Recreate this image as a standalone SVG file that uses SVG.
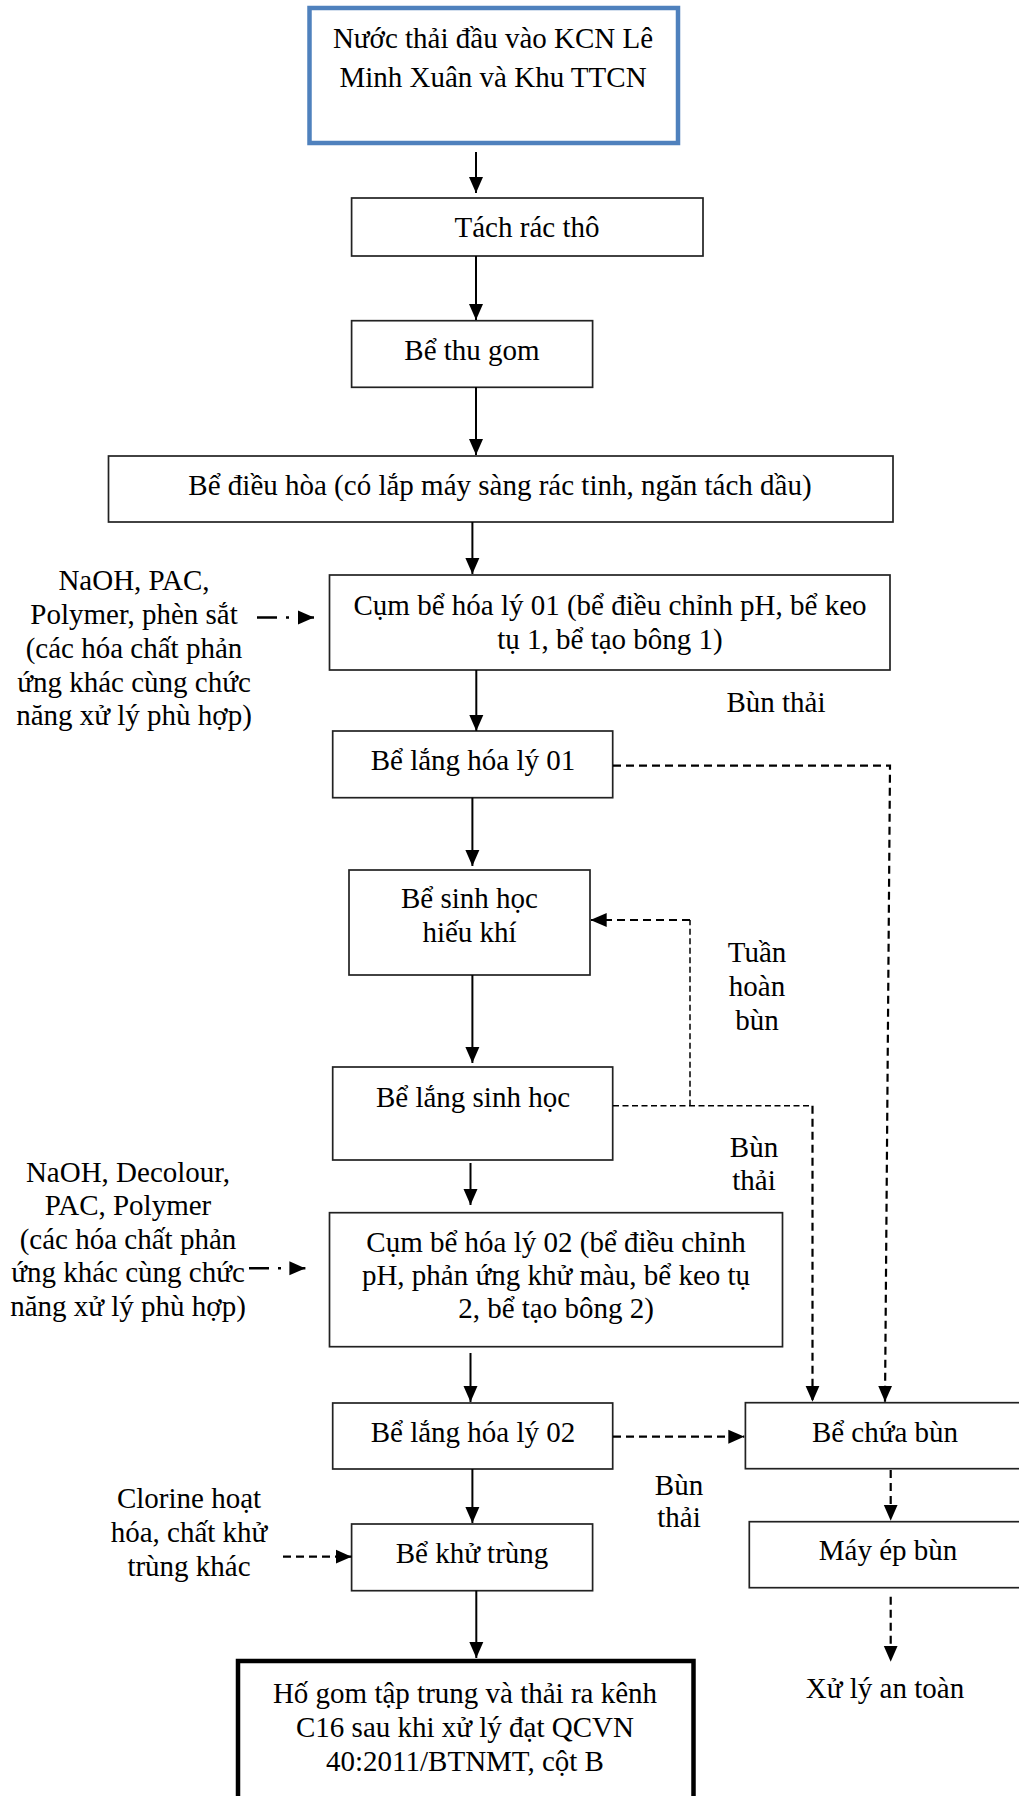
<svg xmlns="http://www.w3.org/2000/svg" width="1019" height="1796" viewBox="0 0 1019 1796">
  <defs>
    <marker id="head" markerUnits="userSpaceOnUse" markerWidth="16" markerHeight="16" viewBox="0 0 16 16" refX="16" refY="8" orient="auto">
      <path d="M0,1 L16,8 L0,15 Z" fill="#000"/>
    </marker>
    <style>
      .box { fill: #fff; stroke: #222; stroke-width: 1.7; }
      .lbl { font-family: "Liberation Serif", "Times New Roman", serif; font-size: 29px; fill: #000; text-anchor: middle; }
      .flow { fill: none; stroke: #000; stroke-width: 2; }
      .dash { fill: none; stroke: #000; stroke-width: 2.2; stroke-dasharray: 8 5; }
      .thin { fill: none; stroke: #000; stroke-width: 1.5; stroke-dasharray: 6 3.5; }
      .dashdot { fill: none; stroke: #000; stroke-width: 2.4; stroke-dasharray: 20 9 3 20; }
    </style>
  </defs>
  <rect width="1019" height="1796" fill="#fff"/>

  <!-- process chain -->
  <g id="n-inlet">
    <rect x="309.5" y="8" width="368.5" height="135" fill="#fff" stroke="#4F81BD" stroke-width="4.5"/>
    <text class="lbl" x="493" y="48">Nước thải đầu vào KCN Lê</text>
    <text class="lbl" x="493" y="87">Minh Xuân và Khu TTCN</text>
  </g>
  <g id="n-screen">
    <rect class="box" x="351.6" y="198" width="351.4" height="58"/>
    <text class="lbl" x="527" y="237">Tách rác thô</text>
  </g>
  <g id="n-collect">
    <rect class="box" x="351.6" y="320.7" width="241" height="66.6"/>
    <text class="lbl" x="472" y="360">Bể thu gom</text>
  </g>
  <g id="n-equal">
    <rect class="box" x="108.5" y="456" width="784.5" height="66"/>
    <text class="lbl" x="500" y="495">Bể điều hòa (có lắp máy sàng rác tinh, ngăn tách dầu)</text>
  </g>
  <g id="n-chem1">
    <rect class="box" x="329.5" y="575" width="560.5" height="95"/>
    <text class="lbl" x="610" y="615">Cụm bể hóa lý 01 (bể điều chỉnh pH, bể keo</text>
    <text class="lbl" x="610" y="649">tụ 1, bể tạo bông 1)</text>
  </g>
  <g id="n-settle1">
    <rect class="box" x="332.7" y="731" width="280" height="66.7"/>
    <text class="lbl" x="473" y="770">Bể lắng hóa lý 01</text>
  </g>
  <g id="n-bio">
    <rect class="box" x="349" y="870" width="241" height="105"/>
    <text class="lbl" x="469.5" y="908">Bể sinh học</text>
    <text class="lbl" x="469.5" y="942">hiếu khí</text>
  </g>
  <g id="n-biosettle">
    <rect class="box" x="332.7" y="1067" width="280" height="93"/>
    <text class="lbl" x="473" y="1107">Bể lắng sinh học</text>
  </g>
  <g id="n-chem2">
    <rect class="box" x="329.5" y="1212.7" width="453" height="134"/>
    <text class="lbl" x="556" y="1252">Cụm bể hóa lý 02 (bể điều chỉnh</text>
    <text class="lbl" x="556" y="1285">pH, phản ứng khử màu, bể keo tụ</text>
    <text class="lbl" x="556" y="1318">2, bể tạo bông 2)</text>
  </g>
  <g id="n-settle2">
    <rect class="box" x="332.7" y="1403" width="280" height="66"/>
    <text class="lbl" x="473" y="1442">Bể lắng hóa lý 02</text>
  </g>
  <g id="n-disinfect">
    <rect class="box" x="351.6" y="1524" width="241" height="66.7"/>
    <text class="lbl" x="472" y="1563">Bể khử trùng</text>
  </g>
  <g id="n-outlet">
    <rect x="238" y="1661" width="455.5" height="200" fill="#fff" stroke="#000" stroke-width="4.5"/>
    <text class="lbl" x="465" y="1703">Hố gom tập trung và thải ra kênh</text>
    <text class="lbl" x="465" y="1737">C16 sau khi xử lý đạt QCVN</text>
    <text class="lbl" x="465" y="1771">40:2011/BTNMT, cột B</text>
  </g>

  <!-- sludge line -->
  <g id="n-sludgetank">
    <rect class="box" x="745.4" y="1402.7" width="290" height="66"/>
    <text class="lbl" x="885" y="1442">Bể chứa bùn</text>
  </g>
  <g id="n-press">
    <rect class="box" x="749.3" y="1521.7" width="290" height="66"/>
    <text class="lbl" x="888" y="1560">Máy ép bùn</text>
  </g>
  <g id="n-safe">
    <text class="lbl" x="885" y="1698">Xử lý an toàn</text>
  </g>

  <!-- dosing inputs -->
  <g id="n-dose1">
    <text class="lbl" x="134" y="590">NaOH, PAC,</text>
    <text class="lbl" x="134" y="624">Polymer, phèn sắt</text>
    <text class="lbl" x="134" y="658">(các hóa chất phản</text>
    <text class="lbl" x="134" y="692">ứng khác cùng chức</text>
    <text class="lbl" x="134" y="725">năng xử lý phù hợp)</text>
  </g>
  <g id="n-dose2">
    <text class="lbl" x="128" y="1182">NaOH, Decolour,</text>
    <text class="lbl" x="128" y="1215">PAC, Polymer</text>
    <text class="lbl" x="128" y="1249">(các hóa chất phản</text>
    <text class="lbl" x="128" y="1282">ứng khác cùng chức</text>
    <text class="lbl" x="128" y="1316">năng xử lý phù hợp)</text>
  </g>
  <g id="n-dose3">
    <text class="lbl" x="189" y="1508">Clorine hoạt</text>
    <text class="lbl" x="189" y="1542">hóa, chất khử</text>
    <text class="lbl" x="189" y="1576">trùng khác</text>
  </g>

  <!-- connector labels -->
  <g id="labels">
    <text class="lbl" x="776" y="712">Bùn thải</text>
    <text class="lbl" x="757" y="962">Tuần</text>
    <text class="lbl" x="757" y="996">hoàn</text>
    <text class="lbl" x="757" y="1030">bùn</text>
    <text class="lbl" x="754" y="1157">Bùn</text>
    <text class="lbl" x="754" y="1190">thải</text>
    <text class="lbl" x="679" y="1495">Bùn</text>
    <text class="lbl" x="679" y="1527">thải</text>
  </g>

  <g id="connectors">
    <!-- main flow -->
    <line class="flow" x1="476" y1="152" x2="476" y2="193" marker-end="url(#head)"/>
    <line class="flow" x1="476" y1="256" x2="476" y2="320" marker-end="url(#head)"/>
    <line class="flow" x1="476" y1="387" x2="476" y2="455" marker-end="url(#head)"/>
    <line class="flow" x1="472.4" y1="522" x2="472.4" y2="574" marker-end="url(#head)"/>
    <line class="flow" x1="476.3" y1="670" x2="476.3" y2="731" marker-end="url(#head)"/>
    <line class="flow" x1="472.4" y1="797.7" x2="472.4" y2="866" marker-end="url(#head)"/>
    <line class="flow" x1="472.4" y1="975" x2="472.4" y2="1063" marker-end="url(#head)"/>
    <line class="flow" x1="470.5" y1="1163" x2="470.5" y2="1205" marker-end="url(#head)"/>
    <line class="flow" x1="470.5" y1="1353" x2="470.5" y2="1402" marker-end="url(#head)"/>
    <line class="flow" x1="472.4" y1="1469" x2="472.4" y2="1523" marker-end="url(#head)"/>
    <line class="flow" x1="476.3" y1="1590.7" x2="476.3" y2="1658" marker-end="url(#head)"/>

    <!-- chemical dosing -->
    <line class="dashdot" x1="257" y1="617.5" x2="314" y2="617.5" marker-end="url(#head)"/>
    <line class="dashdot" x1="249" y1="1268.3" x2="305.4" y2="1268.3" marker-end="url(#head)"/>
    <line class="dash" x1="283" y1="1556.7" x2="351.6" y2="1556.7" marker-end="url(#head)"/>

    <!-- sludge from settling tank 01 -->
    <polyline class="dash" points="613,765.7 890,765.7 885,1401.7" marker-end="url(#head)"/>
    <!-- return sludge and excess sludge from biological settling -->
    <polyline class="thin" points="613,1105.7 812.5,1105.7"/>
    <line class="dash" x1="812.5" y1="1105.7" x2="812.5" y2="1401.7" marker-end="url(#head)"/>
    <line class="thin" x1="690" y1="1105.7" x2="690" y2="920"/>
    <line class="dash" x1="690" y1="920" x2="590.7" y2="920" marker-end="url(#head)"/>
    <!-- sludge from settling tank 02 -->
    <line class="dash" x1="613" y1="1436.7" x2="744.3" y2="1436.7" marker-end="url(#head)"/>
    <!-- sludge handling -->
    <line class="dash" x1="890.7" y1="1470" x2="890.7" y2="1520.7" marker-end="url(#head)"/>
    <line class="dash" x1="890.7" y1="1596.7" x2="890.7" y2="1661.7" marker-end="url(#head)"/>
  </g>
</svg>
